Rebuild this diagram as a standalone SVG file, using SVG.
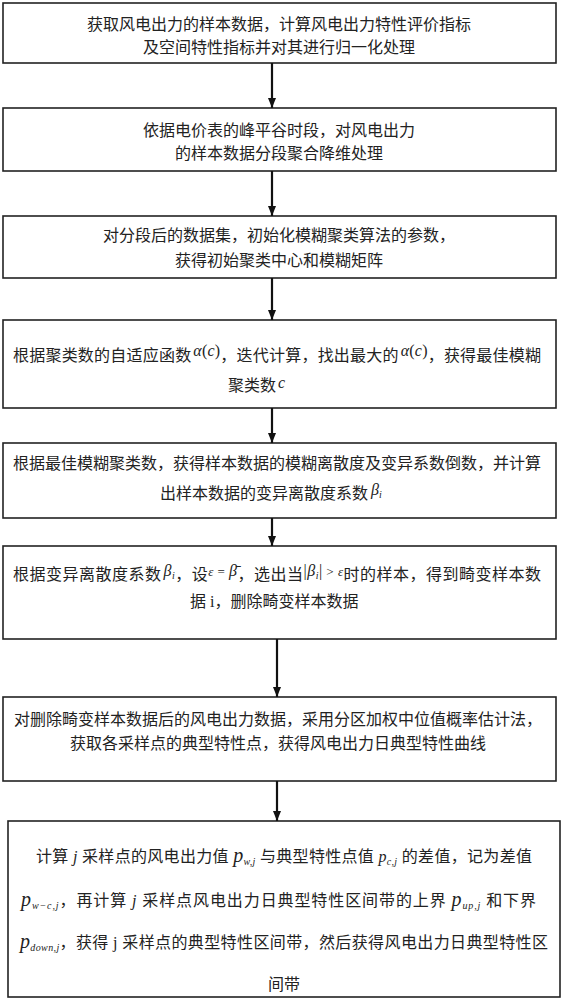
<svg xmlns="http://www.w3.org/2000/svg" width="565" height="1000" viewBox="0 0 565 1000">
<defs>
<marker id="ah" markerWidth="10" markerHeight="8" refX="10" refY="4" orient="auto" markerUnits="userSpaceOnUse">
<path d="M0,0 L10,4 L0,8 z" fill="#111"/>
</marker>
<style>
.box{fill:#fff;stroke:#222;stroke-width:1.6}
.t{font-family:"Liberation Serif","Noto Sans CJK SC",serif;font-size:16px;fill:#222}
.c{text-anchor:middle}
.m{font-family:"Liberation Serif",serif;font-style:italic}
.r{font-family:"Liberation Serif",serif;font-style:normal}
.s{font-size:10px}
.s2{font-size:13px}
.conn{stroke:#111;stroke-width:2.2;fill:none}
</style>
</defs>
<rect width="565" height="1000" fill="#fff"/>
<g id="n1">
<rect class="box" x="3" y="3" width="553" height="60"/>
<text class="t c" x="279" y="30">获取风电出力的样本数据，计算风电出力特性评价指标</text>
<text class="t c" x="279" y="53">及空间特性指标并对其进行归一化处理</text>
</g>
<g id="n2">
<rect class="box" x="3" y="108" width="553" height="63"/>
<text class="t c" x="279" y="136">依据电价表的峰平谷时段，对风电出力</text>
<text class="t c" x="279" y="159">的样本数据分段聚合降维处理</text>
</g>
<g id="n3">
<rect class="box" x="3" y="216" width="553" height="62"/>
<text class="t c" x="279" y="241">对分段后的数据集，初始化模糊聚类算法的参数，</text>
<text class="t c" x="279" y="266">获得初始聚类中心和模糊矩阵</text>
</g>
<g id="n4">
<rect class="box" x="3" y="320" width="553" height="88"/>
<text class="t" x="13" y="361" textLength="528" lengthAdjust="spacing">根据聚类数的自适应函数<tspan class="m" dx="2" dy="-5">α</tspan><tspan class="r">(</tspan><tspan class="m">c</tspan><tspan class="r">)</tspan><tspan dy="5">，迭代计算，找出最大的</tspan><tspan class="m" dx="2" dy="-5">α</tspan><tspan class="r">(</tspan><tspan class="m">c</tspan><tspan class="r">)</tspan><tspan dy="5">，获得最佳模糊</tspan></text>
<text class="t" x="228" y="391">聚类数<tspan class="m" dx="2" dy="-3">c</tspan></text>
</g>
<g id="n5">
<rect class="box" x="3" y="443" width="553" height="75"/>
<text class="t" x="13" y="469">根据最佳模糊聚类数，获得样本数据的模糊离散度及变异系数倒数，并计算</text>
<text class="t" x="160" y="499">出样本数据的变异离散度系数<tspan class="m" dx="3" dy="-4">β</tspan><tspan class="m s" dy="3">i</tspan></text>
</g>
<g id="n6">
<rect class="box" x="3" y="546" width="553" height="93"/>
<text class="t" x="13" y="580" textLength="528" lengthAdjust="spacing">根据变异离散度系数<tspan class="m" dx="2" dy="-4">β</tspan><tspan class="m s" dy="3">i</tspan><tspan dy="1">，设</tspan><tspan class="m s2" dy="-4">ε</tspan><tspan class="r s2"> = </tspan><tspan class="m">β̄</tspan><tspan dy="4">，选出当</tspan><tspan class="r" dy="-4">|</tspan><tspan class="m">β</tspan><tspan class="m s" dy="3">i</tspan><tspan class="r" dy="-3">|</tspan><tspan class="r s2"> &gt; </tspan><tspan class="m s2">ε</tspan><tspan dy="4">时的样本，得到畸变样本数</tspan></text>
<text class="t" x="190" y="607">据 <tspan class="r">i</tspan>，删除畸变样本数据</text>
</g>
<g id="n7">
<rect class="box" x="3" y="697" width="553" height="84"/>
<text class="t" x="14" y="725">对删除畸变样本数据后的风电出力数据，采用分区加权中位值概率估计法，</text>
<text class="t c" x="278" y="749">获取各采样点的典型特性点，获得风电出力日典型特性曲线</text>
</g>
<g id="n8">
<rect class="box" x="8" y="821" width="552" height="176"/>
<text class="t" x="36" y="862" textLength="496" lengthAdjust="spacing">计算 <tspan class="m">j</tspan> 采样点的风电出力值 <tspan class="m" font-size="20">p</tspan><tspan class="m s" dy="3">w,j</tspan><tspan dy="-3"> 与典型特性点值 </tspan><tspan class="m">p</tspan><tspan class="m s" dy="3">c,j</tspan><tspan dy="-3"> 的差值，记为差值</tspan></text>
<text class="t" x="21" y="906" textLength="515" lengthAdjust="spacing"><tspan class="m" font-size="20">p</tspan><tspan class="m s" dy="3">w−c,j</tspan><tspan dy="-3">，再计算 </tspan><tspan class="m">j</tspan> 采样点风电出力日典型特性区间带的上界 <tspan class="m" font-size="20">p</tspan><tspan class="m s" dy="3">up,j</tspan><tspan dy="-3"> 和下界</tspan></text>
<text class="t" x="20" y="948" textLength="528" lengthAdjust="spacing"><tspan class="m" font-size="20">p</tspan><tspan class="m s" dy="3">down,j</tspan><tspan dy="-3">，获得 </tspan><tspan class="r">j</tspan> 采样点的典型特性区间带，然后获得风电出力日典型特性区</text>
<text class="t c" x="284" y="990">间带</text>
</g>
<g id="connectors">
<line class="conn" x1="272" y1="63" x2="272" y2="108" marker-end="url(#ah)"/>
<line class="conn" x1="272" y1="171" x2="272" y2="216" marker-end="url(#ah)"/>
<line class="conn" x1="272" y1="278" x2="272" y2="320" marker-end="url(#ah)"/>
<line class="conn" x1="272" y1="408" x2="272" y2="443" marker-end="url(#ah)"/>
<line class="conn" x1="272" y1="518" x2="272" y2="546" marker-end="url(#ah)"/>
<line class="conn" x1="277" y1="639" x2="277" y2="697" marker-end="url(#ah)"/>
<line class="conn" x1="277" y1="781" x2="277" y2="821" marker-end="url(#ah)"/>
</g>
</svg>
